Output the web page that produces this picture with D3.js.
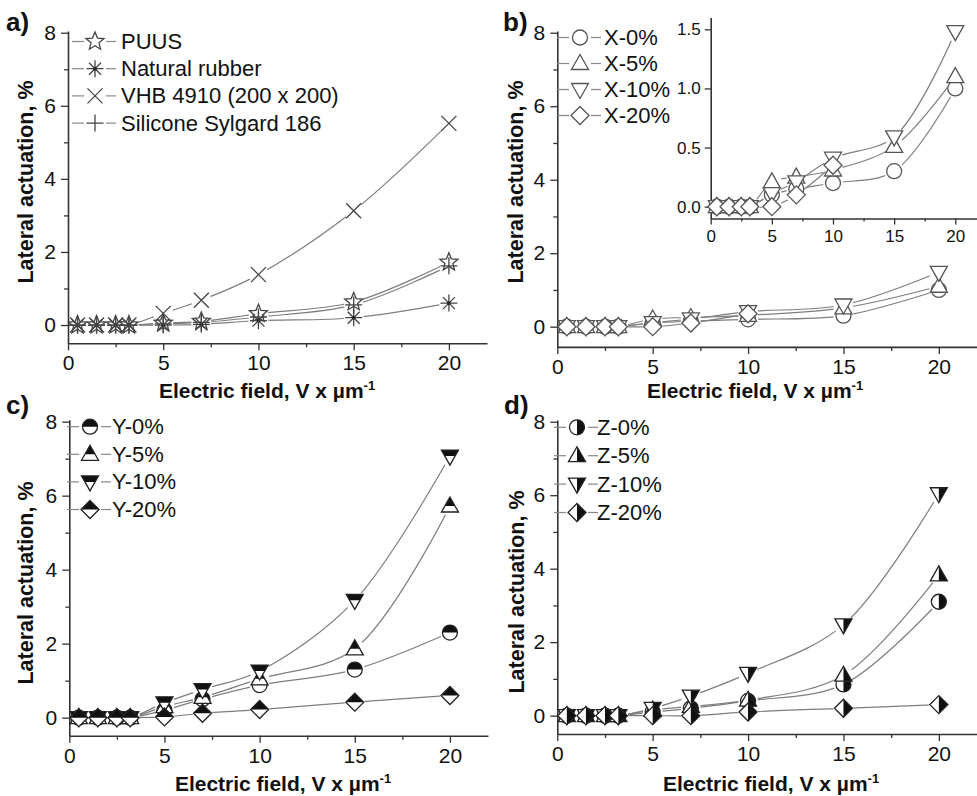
<!DOCTYPE html>
<html><head><meta charset="utf-8">
<script src="https://cdn.jsdelivr.net/npm/d3@7"></script>
<style>
body{margin:0;background:#fff}
svg{display:block}
text{font-family:"Liberation Sans",Arial,Helvetica,sans-serif;fill:#111}
</style>
</head><body>
<svg id="chart" width="977" height="796"></svg>
<script>
// ---------- data ----------
const fieldX = [0.5, 1.5, 2.5, 3.2, 5, 7, 10, 15, 20];
const xTicks = [0, 5, 10, 15, 20];
const xMinorTicks = [2.5, 7.5, 12.5, 17.5];
const yTicks = [0, 2, 4, 6, 8];
const yMinorTicks = [1, 3, 5, 7];
const insetYTicks = [0.0, 0.5, 1.0, 1.5];

// panel a
const puus          = [0, 0, 0, 0, 0.05, 0.10, 0.31, 0.63, 1.72];
const naturalRubber = [0, 0, 0, 0, 0.00, 0.02, 0.12, 0.20, 0.60];
const vhb4910       = [0, 0, 0, 0, 0.32, 0.68, 1.38, 3.13, 5.52];
const sylgard186    = [0, 0, 0, 0, 0.03, 0.07, 0.22, 0.55, 1.62];
const legendA = ["PUUS", "Natural rubber", "VHB 4910 (200 x 200)", "Silicone Sylgard 186"];

// panel b
const x0  = [0, 0, 0, 0, 0.10, 0.15, 0.20, 0.30, 1.00];
const x5  = [0, 0, 0, 0, 0.21, 0.25, 0.31, 0.51, 1.10];
const x10 = [0, 0, 0, 0, 0.11, 0.21, 0.41, 0.59, 1.48];
const x20 = [0, 0, 0, 0, 0.00, 0.10, 0.35];
const legendB = ["X-0%", "X-5%", "X-10%", "X-20%"];

// panel c
const y0  = [0, 0, 0, 0, 0.20, 0.50, 0.88, 1.30, 2.30];
const y5  = [0, 0, 0, 0, 0.30, 0.55, 1.05, 1.86, 5.72];
const y10 = [0, 0, 0, 0, 0.40, 0.76, 1.26, 3.17, 7.07];
const y20 = [0, 0, 0, 0, 0.02, 0.12, 0.22, 0.42, 0.60];
const legendC = ["Y-0%", "Y-5%", "Y-10%", "Y-20%"];

// panel d
const z0  = [0, 0, 0, 0, 0.10, 0.20, 0.40, 0.85, 3.10];
const z5  = [0, 0, 0, 0, 0.15, 0.25, 0.42, 1.10, 3.83];
const z10 = [0, 0, 0, 0, 0.20, 0.53, 1.15, 2.47, 6.04];
const z20 = [0, 0, 0, 0, 0.00, 0.00, 0.10, 0.20, 0.30];
const legendD = ["Z-0%", "Z-5%", "Z-10%", "Z-20%"];

// ---------- drawing ----------
const svg = d3.select("#chart");
const defs = svg.append("defs");
defs.append("clipPath").attr("id", "halfTop").append("rect").attr("x", -20).attr("y", -20).attr("width", 40).attr("height", 20);
defs.append("clipPath").attr("id", "halfRight").append("rect").attr("x", 0).attr("y", -20).attr("width", 20).attr("height", 40);

const LINE_COL = "#7d7d7d";

function starPath(ro, ri) {
  let p = [];
  for (let i = 0; i < 10; i++) {
    const r = i % 2 === 0 ? ro : ri;
    const a = -Math.PI / 2 + i * Math.PI / 5;
    p.push([r * Math.cos(a), r * Math.sin(a)]);
  }
  return "M" + p.map(d => d[0].toFixed(2) + "," + d[1].toFixed(2)).join("L") + "Z";
}
const shapes = {
  circle: "M7.5,0A7.5,7.5 0 1,1 -7.5,0A7.5,7.5 0 1,1 7.5,0Z",
  triUp: "M0,-9L8.5,6L-8.5,6Z",
  triDown: "M0,9L8.5,-6L-8.5,-6Z",
  diamond: "M0,-9L9,0L0,9L-9,0Z",
  star: starPath(9.5, 4.2)
};
const lineShapes = {
  asterisk: "M0,-8.5V8.5M-8.5,0H8.5M-6,-6L6,6M-6,6L6,-6",
  cross: "M-7.5,-7.5L7.5,7.5M-7.5,7.5L7.5,-7.5",
  plus: "M0,-8.5V8.5M-8.5,0H8.5"
};

function drawSymbol(g, sym, half, stroke) {
  if (lineShapes[sym]) {
    g.append("path").attr("d", lineShapes[sym]).attr("fill", "none")
      .attr("stroke", stroke).attr("stroke-width", 1.3);
    if (sym === "asterisk") g.append("circle").attr("r", 1.8).attr("fill", "#222");
    return;
  }
  const d = shapes[sym];
  g.append("path").attr("d", d).attr("fill", "#fff");
  if (half) {
    g.append("path").attr("d", d).attr("fill", "#111")
      .attr("clip-path", half === "top" ? "url(#halfTop)" : "url(#halfRight)");
  }
  g.append("path").attr("d", d).attr("fill", "none").attr("stroke", stroke).attr("stroke-width", 1.3);
}

let maskId = 0;
function drawSeriesLines(g, xs, ys, series) {
  series.forEach(s => {
    const pts = s.vals.map((v, i) => [xs(fieldX[i]), ys(v)]);
    const id = "m" + (maskId++);
    const m = defs.append("mask").attr("id", id).attr("maskUnits", "userSpaceOnUse")
      .attr("x", 0).attr("y", 0).attr("width", 977).attr("height", 796);
    m.append("rect").attr("width", 977).attr("height", 796).attr("fill", "#fff");
    pts.forEach(p => m.append("circle").attr("cx", p[0]).attr("cy", p[1]).attr("r", 10).attr("fill", "#000"));
    g.append("path")
      .attr("d", d3.line().curve(d3.curveCatmullRom.alpha(0.5))(pts))
      .attr("fill", "none").attr("stroke", LINE_COL).attr("stroke-width", 1.2)
      .attr("mask", "url(#" + id + ")");
  });
}
function drawSeriesMarkers(g, xs, ys, series, stroke) {
  series.forEach(s => {
    s.vals.forEach((v, i) => {
      const mg = g.append("g").attr("transform", `translate(${xs(fieldX[i])},${ys(v)})`);
      drawSymbol(mg, s.sym, s.half, stroke);
    });
  });
}

function drawAxes(xs, ys, opt) {
  const g = svg.append("g");
  g.append("g").attr("transform", `translate(0,${ys.range()[0]})`)
    .call(d3.axisBottom(xs).tickValues(xTicks).tickSize(opt.major).tickSizeOuter(0).tickPadding(opt.xpad).tickFormat(d3.format("d")));
  g.append("g").attr("transform", `translate(0,${ys.range()[0]})`)
    .call(d3.axisBottom(xs).tickValues(xMinorTicks).tickSize(opt.minor).tickSizeOuter(0).tickFormat(""))
    .select(".domain").remove();
  g.append("g").attr("transform", `translate(${xs.range()[0]},0)`)
    .call(d3.axisLeft(ys).tickValues(opt.yticks).tickSize(opt.major).tickSizeOuter(0).tickPadding(opt.ypad).tickFormat(opt.yfmt));
  if (opt.yminor) {
    g.append("g").attr("transform", `translate(${xs.range()[0]},0)`)
      .call(d3.axisLeft(ys).tickValues(opt.yminor).tickSize(opt.minor).tickSizeOuter(0).tickFormat(""))
      .select(".domain").remove();
  }
  g.selectAll(".domain").attr("stroke", "#333").attr("stroke-width", 1.6);
  g.selectAll(".tick line").attr("stroke", "#333").attr("stroke-width", 1.3);
  g.selectAll(".tick text").attr("font-size", opt.fontSize).attr("fill", "#111")
    .attr("font-family", "Liberation Sans, Arial, sans-serif");
  return g;
}

const panels = [
  { label: "a)", lab: [6, 31], xr: [68, 487], yr: [343.3, 30.9], yd: [-0.5, 8.05],
    series: [
      { vals: puus, sym: "star" }, { vals: naturalRubber, sym: "asterisk" },
      { vals: vhb4910, sym: "cross" }, { vals: sylgard186, sym: "plus" }],
    legend: legendA, leg: { x: 95, y: 41.5, dy: 27.2, tx: 121 }, stroke: "#444",
    xt: [267, 398], yt: [25, 182] },
  { label: "b)", lab: [503, 31], xr: [557.3, 977], yr: [346.9, 30.9], yd: [-0.55, 8.05],
    series: [
      { vals: x0, sym: "circle" }, { vals: x5, sym: "triUp" },
      { vals: x10, sym: "triDown" }, { vals: x20, sym: "diamond" }],
    legend: legendB, leg: { x: 580, y: 37.5, dy: 26, tx: 604 }, stroke: "#555",
    xt: [755, 398], yt: [515, 182] },
  { label: "c)", lab: [6, 414], xr: [69.3, 488], yr: [735.8, 419.8], yd: [-0.49, 8.05],
    series: [
      { vals: y0, sym: "circle", half: "top" }, { vals: y5, sym: "triUp", half: "top" },
      { vals: y10, sym: "triDown", half: "top" }, { vals: y20, sym: "diamond", half: "top" }],
    legend: legendC, leg: { x: 90, y: 426.7, dy: 27.6, tx: 112 }, stroke: "#222",
    xt: [283, 791], yt: [25, 583] },
  { label: "d)", lab: [504, 414], xr: [557.3, 977], yr: [734, 419.9], yd: [-0.5, 8.05],
    series: [
      { vals: z0, sym: "circle", half: "right" }, { vals: z5, sym: "triUp", half: "right" },
      { vals: z10, sym: "triDown", half: "right" }, { vals: z20, sym: "diamond", half: "right" }],
    legend: legendD, leg: { x: 577, y: 427.3, dy: 28.4, tx: 597 }, stroke: "#222",
    xt: [771, 791], yt: [516, 592] }
];

panels.forEach(p => {
  const xs = d3.scaleLinear().domain([0, 22]).range([p.xr[0], p.xr[1]]);
  const ys = d3.scaleLinear().domain(p.yd).range(p.yr);
  drawAxes(xs, ys, { fontSize: 21, major: 7, minor: 4, xpad: 5, ypad: 5, yticks: yTicks, yminor: yMinorTicks, yfmt: d3.format("d") });
  const g = svg.append("g");
  drawSeriesLines(g, xs, ys, p.series);
  drawSeriesMarkers(g, xs, ys, p.series, p.stroke);

  // legend
  const lg = svg.append("g");
  p.legend.forEach((t, i) => {
    const cy = p.leg.y + i * p.leg.dy;
    lg.append("line").attr("x1", p.leg.x - 23).attr("x2", p.leg.x - 11).attr("y1", cy).attr("y2", cy)
      .attr("stroke", "#888").attr("stroke-width", 1.2);
    lg.append("line").attr("x1", p.leg.x + 11).attr("x2", p.leg.x + 21).attr("y1", cy).attr("y2", cy)
      .attr("stroke", "#888").attr("stroke-width", 1.2);
    const mg = lg.append("g").attr("transform", `translate(${p.leg.x},${cy})`);
    drawSymbol(mg, p.series[i].sym, p.series[i].half, p.stroke);
    lg.append("text").attr("x", p.leg.tx).attr("y", cy + 7.5).attr("font-size", 22).text(t);
  });

  // titles
  const xt = svg.append("text").attr("x", p.xt[0]).attr("y", p.xt[1]).attr("text-anchor", "middle")
    .attr("font-size", 21).attr("font-weight", "bold");
  xt.append("tspan").text("Electric field, V x \u00b5m");
  xt.append("tspan").attr("dy", -8).attr("font-size", 13).text("-1");
  svg.append("text").attr("transform", `translate(${p.yt[0]},${p.yt[1]}) rotate(-90)`)
    .attr("text-anchor", "middle").attr("dy", "0.35em")
    .attr("font-size", 21.5).attr("font-weight", "bold").text("Lateral actuation, %");
  svg.append("text").attr("x", p.lab[0]).attr("y", p.lab[1]).attr("font-size", 26).attr("font-weight", "bold").text(p.label);
});

// inset in panel b
{
  const xs = d3.scaleLinear().domain([0, 22]).range([710.7, 710.7 + 22 * 12.23]);
  const ys = d3.scaleLinear().domain([-0.1, 1.6]).range([218.5, 17.5]);
  const series = panels[1].series;
  drawAxes(xs, ys, { fontSize: 17, major: 6, minor: 3, xpad: 5, ypad: 4, yticks: insetYTicks, yminor: null, yfmt: d3.format(".1f") });
  const g = svg.append("g");
  drawSeriesLines(g, xs, ys, series);
  drawSeriesMarkers(g, xs, ys, series, "#555");
}
</script>
</body></html>
